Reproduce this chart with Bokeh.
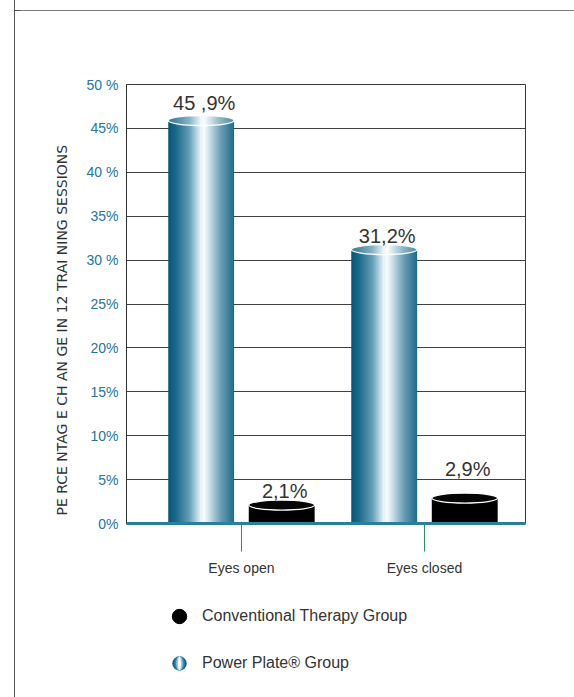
import math
from bokeh.plotting import figure
from bokeh.models import (Range1d, FixedTicker, Legend, LegendItem, Title, Div,
                          ColumnDataSource)
from bokeh.layouts import column, row
from bokeh.core.properties import value
from bokeh.embed import file_html
from bokeh.resources import INLINE

# ---------------- data ----------------
categories = ["Eyes open", "Eyes closed"]
power_plate = [45.9, 31.2]
conventional = [2.1, 2.9]
power_plate_labels = ["45 ,9%", "31,2%"]
conventional_labels = ["2,1%", "2,9%"]
y_ticks = [0, 5, 10, 15, 20, 25, 30, 35, 40, 45, 50]
y_tick_labels = ["0%", "5%", "10%", "15%", "20%", "25%", "30 %", "35%", "40 %", "45%", "50 %"]
y_title = "PE RCE NTAG E CH AN GE  IN 12 TRAI  NING  SESSIONS"
series_names = ["Conventional Therapy Group", "Power Plate® Group"]

# ---------------- style / layout ----------------
FONT = "Liberation Sans"
W, H = 574, 697
TOP_H = 10            # strip above the chart (outer frame top line)
LEFT_W = 20           # strip left of the chart (outer frame left line)
CHART_H = 580
LEG_H = H - TOP_H - CHART_H
BORDER_X = 14.5
BORDER_Y = 8.5
BORDER_COLOR = "#555555"
TEXT = "#333333"
TICK_BLUE = "#2276a0"
BAR_W = 0.36
OFFSET = 0.22
N_STRIPS = 60
CAP_PX = 5.0
pp_label_dy = [-17, -14]
ct_label_dy = [-14, -29]

C_LEFT, C_RIGHT, C_TOP, C_BOTTOM = 126 - LEFT_W, 49, 84 - TOP_H, 67
FRAME_H = CHART_H - C_TOP - C_BOTTOM

x_range = Range1d(0.372, 2.552)
y_range = Range1d(0, 50)
ppu_y = FRAME_H / (y_range.end - y_range.start)
cap_half = CAP_PX / ppu_y

STOPS = [(0.00, (6, 86, 120)), (0.12, (28, 106, 140)), (0.32, (100, 158, 182)),
         (0.46, (205, 228, 237)), (0.54, (252, 253, 254)), (0.62, (205, 226, 235)),
         (0.80, (105, 157, 180)), (1.00, (32, 108, 138))]


def grad(t, lighten=0.0):
    c = STOPS[-1][1]
    for (t0, c0), (t1, c1) in zip(STOPS[:-1], STOPS[1:]):
        if t0 <= t <= t1:
            f = (t - t0) / (t1 - t0)
            c = [a + (b - a) * f for a, b in zip(c0, c1)]
            break
    c = [v + (255 - v) * lighten for v in c]
    return "#%02x%02x%02x" % tuple(int(round(v)) for v in c)


def cylinder_data(centers, values, colorfn, capfn):
    body = dict(left=[], right=[], bottom=[], top=[], color=[])
    cap = dict(left=[], right=[], bottom=[], top=[], color=[])
    sw = BAR_W / N_STRIPS
    half = N_STRIPS // 2
    order = list(range(half)) + list(range(N_STRIPS - 1, half - 1, -1))
    for cx, v in zip(centers, values):
        x0 = cx - BAR_W / 2
        for k in order:
            l = x0 + k * sw
            r = l + sw
            u = (l + sw / 2 - cx) / (BAR_W / 2)
            s = math.sqrt(max(0.0, 1 - u * u))
            t = (k + 0.5) / N_STRIPS
            ql, qr = (l, cx + sw * 0.5) if k < half else (cx - sw * 0.5, r)
            body["left"].append(ql); body["right"].append(qr)
            body["bottom"].append(0); body["top"].append(v - cap_half * s + 0.05)
            body["color"].append(colorfn(t))
            cap["left"].append(ql); cap["right"].append(qr)
            cap["bottom"].append(v - cap_half * s); cap["top"].append(v + cap_half * s)
            cap["color"].append(capfn(t))
    return body, cap


def blank(width, height):
    f = figure(width=width, height=height, x_range=Range1d(0, width),
               y_range=Range1d(height, 0), output_backend="svg", toolbar_location=None,
               x_axis_location=None, y_axis_location=None, min_border=0,
               outline_line_color=None, background_fill_color="white",
               border_fill_color="white")
    f.grid.visible = False
    return f


# ---------------- outer frame strips (plain inline SVG lines) ----------------
SIDE_H = CHART_H + LEG_H
top_div = Div(width=W, height=TOP_H, margin=0, styles={"overflow": "visible"}, text=(
    f'<svg width="{W}" height="{TOP_H}" style="display:block;overflow:visible">'
    f'<line x1="{BORDER_X - 0.5}" y1="{BORDER_Y}" x2="{W}" y2="{BORDER_Y}" '
    f'stroke="{BORDER_COLOR}" stroke-width="1"/>'
    f'<line x1="{BORDER_X}" y1="{BORDER_Y}" x2="{BORDER_X}" y2="{TOP_H + 10}" '
    f'stroke="{BORDER_COLOR}" stroke-width="1"/></svg>'))
left_div = Div(width=LEFT_W, height=SIDE_H, margin=0, styles={"overflow": "visible"}, text=(
    f'<svg width="{LEFT_W}" height="{SIDE_H}" style="display:block;overflow:visible">'
    f'<line x1="{BORDER_X}" y1="-10" x2="{BORDER_X}" y2="{SIDE_H + 20}" '
    f'stroke="{BORDER_COLOR}" stroke-width="1"/></svg>'))

# ---------------- chart ----------------
p = figure(width=W - LEFT_W, height=CHART_H, x_range=x_range, y_range=y_range,
           output_backend="svg", toolbar_location=None,
           min_border_left=C_LEFT, min_border_right=C_RIGHT,
           min_border_top=C_TOP, min_border_bottom=C_BOTTOM,
           background_fill_color="white", border_fill_color="white",
           outline_line_color="#3a3a3a", outline_line_width=1)

p.yaxis.ticker = FixedTicker(ticks=y_ticks)
p.yaxis.major_label_overrides = {t: lab for t, lab in zip(y_ticks, y_tick_labels)}
p.yaxis.major_label_text_color = TICK_BLUE
p.yaxis.major_label_text_font = FONT
p.yaxis.major_label_text_font_size = "14px"
p.yaxis.major_tick_out = 0
p.yaxis.major_tick_in = 0
p.yaxis.minor_tick_line_color = None
p.yaxis.axis_line_color = "#333333"
p.yaxis.major_label_standoff = 8

xpos = [i + 1 for i in range(len(categories))]
p.xaxis.ticker = FixedTicker(ticks=xpos)
p.xaxis.major_label_overrides = {x: c for x, c in zip(xpos, categories)}
p.xaxis.major_label_text_color = TEXT
p.xaxis.major_label_text_font = FONT
p.xaxis.major_label_text_font_size = "14px"
p.xaxis.axis_line_color = "#2a7fa0"
p.xaxis.axis_line_width = 3
p.xaxis.major_tick_line_color = "#2e8b6e"
p.xaxis.major_tick_out = 28
p.xaxis.major_tick_in = 0
p.xaxis.minor_tick_line_color = None
p.xaxis.major_label_standoff = 8

p.xgrid.grid_line_color = None
p.ygrid.ticker = FixedTicker(ticks=y_ticks)
p.ygrid.grid_line_color = "#404040"
p.ygrid.grid_line_width = 1

pp_x = [x - OFFSET for x in xpos]
ct_x = [x + OFFSET for x in xpos]
for centers, vals, cf, capf in [
    (pp_x, power_plate, lambda t: grad(t), lambda t: grad(t, 0.22)),
    (ct_x, conventional, lambda t: "#000000", lambda t: "#060606"),
]:
    body, cap = cylinder_data(centers, vals, cf, capf)
    p.quad(left="left", right="right", bottom="bottom", top="top",
           fill_color="color", line_color=None, source=ColumnDataSource(body))
    p.quad(left="left", right="right", bottom="bottom", top="top",
           fill_color="color", line_color=None, source=ColumnDataSource(cap))
    p.ellipse(x=centers, y=vals, width=BAR_W, height=2 * CAP_PX,
              height_units="screen", fill_alpha=0, line_color="white", line_width=1.3)

for centers, vals, labs, dys in [(pp_x, power_plate, power_plate_labels, pp_label_dy),
                                 (ct_x, conventional, conventional_labels, ct_label_dy)]:
    for cx, v, lab, dy in zip(centers, vals, labs, dys):
        p.text(x=[cx], y=[v], text=[lab], text_align="center", text_baseline="alphabetic",
               x_offset=3, y_offset=dy, text_font=value(FONT), text_font_size="20px",
               text_color=TEXT)

p.add_layout(Title(text=y_title, align="left", offset=8, standoff=28,
                   text_font="DejaVu Sans", text_font_size="14px", text_font_style="normal",
                   text_color=TEXT), "left")

# ---------------- legend strip (its frame is aligned with the chart frame) ----------------
p_leg = blank(W - LEFT_W, LEG_H)
hx = -100
ct_leg = p_leg.ellipse(x=[hx], y=[1], width=20, height=20, width_units="screen",
                       height_units="screen", fill_color="black", line_color="black")
pp_legs = []
for ratio, col in [(1.0, "#0b6484"), (0.72, "#3d8aa8"), (0.46, "#9cc6d6"), (0.2, "#ffffff")]:
    pp_legs.append(p_leg.ellipse(x=[hx], y=[1], width=20 * ratio, height=20,
                                 width_units="screen", height_units="screen",
                                 fill_color=col, line_color=None))

legend = Legend(items=[LegendItem(label=series_names[0], renderers=[ct_leg]),
                       LegendItem(label=series_names[1], renderers=pp_legs)],
                location=(170 - 126, 24), orientation="vertical",
                glyph_width=18, glyph_height=18, label_height=20, spacing=27,
                label_standoff=14, padding=0, margin=0,
                border_line_color=None, background_fill_alpha=0,
                label_text_font=FONT, label_text_font_size="16px", label_text_color=TEXT)
p_leg.add_layout(legend, "center")

layout = column(top_div, row(left_div, column(p, p_leg)))
open("out.html", "w").write(file_html(layout, INLINE))
